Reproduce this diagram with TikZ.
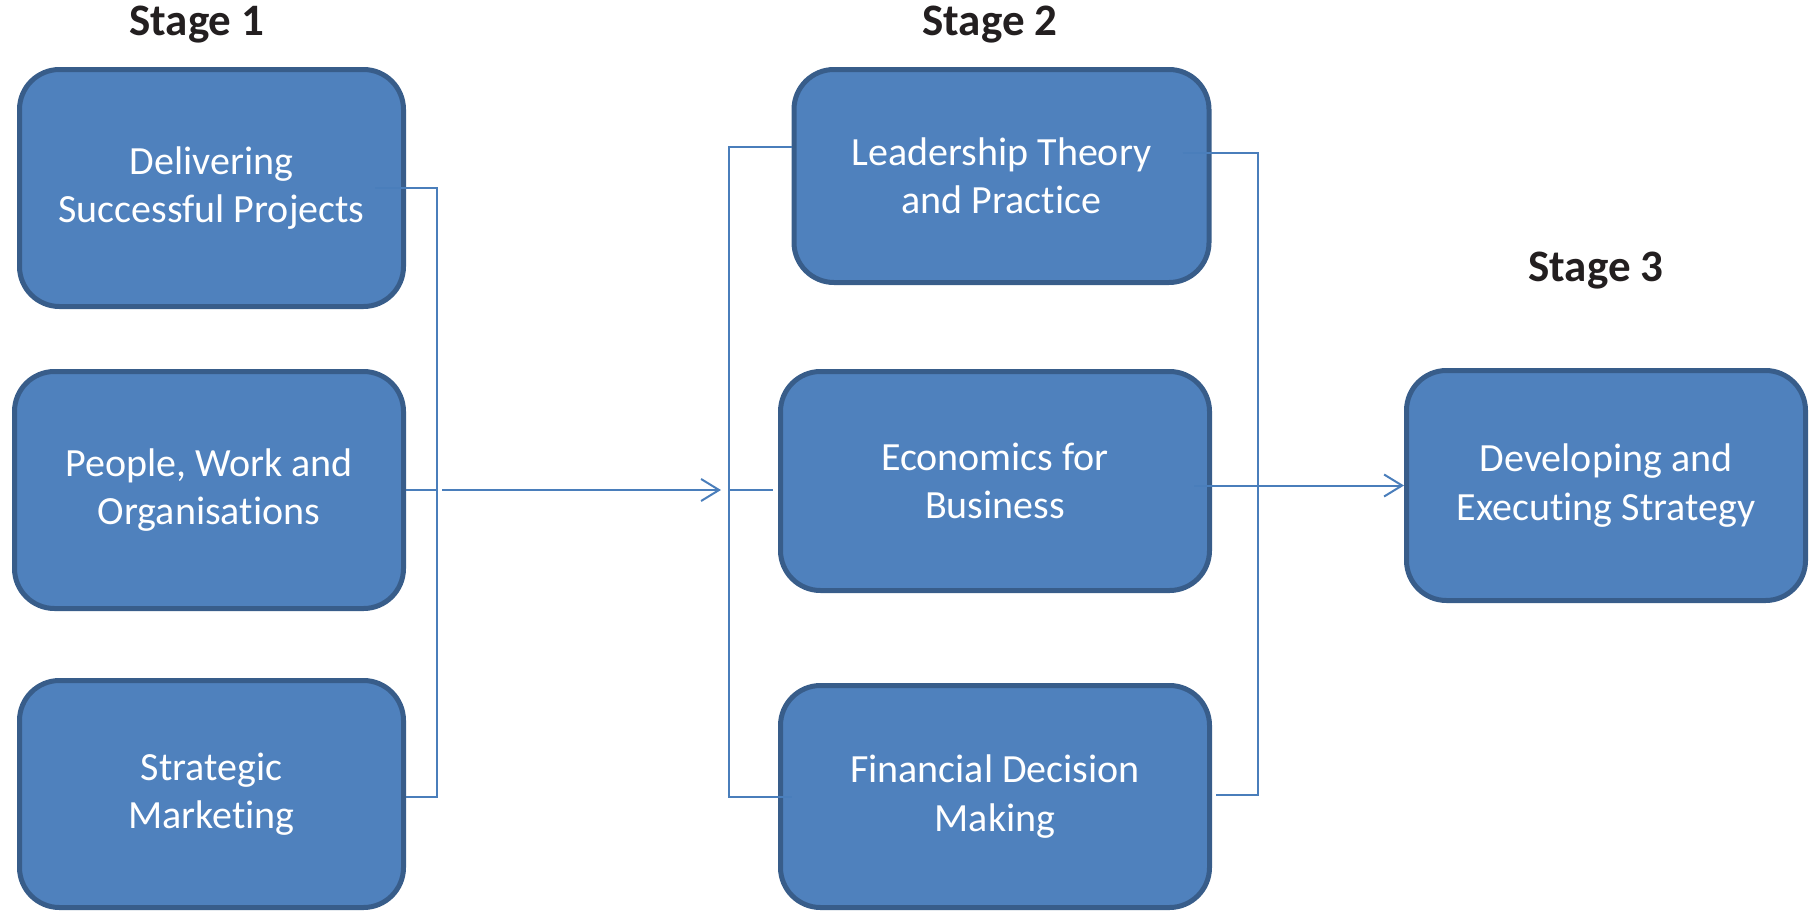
\documentclass[tikz,border=0pt]{standalone}
\usepackage{fontspec}
\setmainfont[Ligatures=NoCommon,Contextuals=NoAlternate]{Carlito}
\usepackage{tikz}
\usetikzlibrary{arrows.meta}
\definecolor{boxfill}{HTML}{4F81BD}
\definecolor{boxline}{HTML}{385D8A}
\definecolor{linkblue}{HTML}{4A7EBB}
\definecolor{stageink}{HTML}{231F20}

\begin{document}
\begin{tikzpicture}
  [x=1pt,y=-1pt,
   module/.style={draw=boxline,line width=5pt,fill=boxfill,rounded corners=40pt,
     text=white,align=center,inner sep=0pt,font=\fontsize{40}{48.5}\selectfont},
   stagelabel/.style={text=stageink,inner sep=0pt,font=\fontsize{45}{54}\selectfont\bfseries},
   link/.style={draw=linkblue,line width=2pt},
   arr/.style={link,-{Straight Barb[length=18pt,width=22pt,line width=2pt]}}]
  \useasboundingbox (0,0) rectangle (1809,913);

  \node[stagelabel] (st1) at (197,25)  {Stage 1};
  \node[stagelabel] (st2) at (990,25)  {Stage 2};
  \node[stagelabel] (st3) at (1596,271) {Stage 3};

  \node[module,minimum width=384pt,minimum height=237pt] (d1) at (211.5,188) {Delivering\\Successful Projects};
  \node[module,minimum width=389pt,minimum height=237pt] (p1) at (209,490)   {People, Work and\\Organisat\kern0pt ions};
  \node[module,minimum width=384pt,minimum height=227pt] (s1) at (211.5,794) {Strategic\\Marketing};

  \node[module,minimum width=415pt,minimum height=213pt] (l2) at (1001.5,176) {Leadership Theory\\and Pract\kern0pt ice};
  \node[module,minimum width=429pt,minimum height=219pt] (e2) at (995,481)    {Economics for\\Business};
  \node[module,minimum width=429pt,minimum height=222pt] (f2) at (995,796.5)  {Financial Decision\\Making};

  \node[module,minimum width=399pt,minimum height=230pt] (x3) at (1606,485.5) {Developing and\\Executing Strategy};

  % brackets
  \coordinate (b1t) at (437,188);
  \coordinate (b1b) at (437,797);
  \coordinate (b2t) at (729,147);
  \coordinate (b2b) at (729,797);
  \coordinate (b3t) at (1258,153);
  \coordinate (b3b) at (1258,795);

  \draw[link] ([xshift=-31pt]d1.east) -- (b1t) -- (b1b) -- (b1b -| s1.east);
  \draw[link] (p1.east) -- (p1.east -| b1t);
  \draw[arr] ([xshift=5pt]p1.east -| b1t) -- ([xshift=-8pt]p1.east -| b2t);

  \draw[link] (b2t -| l2.west) -- (b2t) -- (b2b) -- ([xshift=14pt]b2b -| f2.west);
  \draw[link] (p1.east -| b2t) -- ([xshift=-5pt]p1.east -| e2.west);

  \draw[link] ([xshift=-29pt]b3t -| l2.east) -- (b3t) -- (b3b) -- ([xshift=4pt]b3b -| f2.east);
  \draw[arr] ([xshift=-18pt]e2.east |- x3.west) -- (x3.west);
\end{tikzpicture}
\end{document}
